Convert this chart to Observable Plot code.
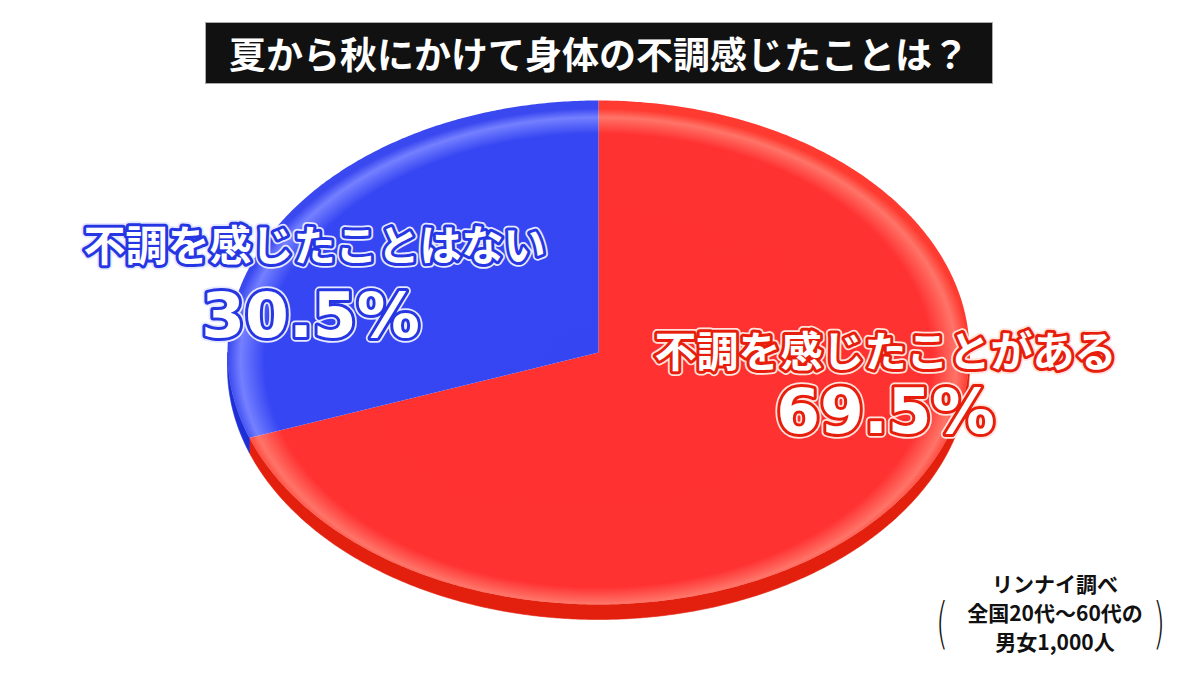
<!DOCTYPE html>
<html lang="ja">
<head>
<meta charset="utf-8">
<script src="https://cdn.jsdelivr.net/npm/d3@7"></script>
<script src="https://cdn.jsdelivr.net/npm/@observablehq/plot@0.6"></script>
<style>
  html, body { margin: 0; padding: 0; background: #fff; }
  #wrap { position: relative; width: 1200px; height: 675px; overflow: hidden; background: #fff; }
  #chart { position: absolute; left: 0; top: 0; }
  #title {
    position: absolute; left: 205px; top: 22px; width: 788px; height: 62px;
    background: #111; border: 1px solid #aaa; box-sizing: border-box;
    color: #fff; font-family: "Noto Sans CJK JP", sans-serif; font-weight: 700;
    font-size: 37px; line-height: 60px; text-align: center; letter-spacing: 0px;
  }
  #source {
    position: absolute; left: 950px; top: 569px; width: 210px;
    font-family: "Noto Sans CJK JP", sans-serif; font-weight: 700; color: #111;
    font-size: 21px; text-align: center;
  }
  #source div { height: 29px; line-height: 29px; white-space: nowrap; }
  .paren { position: absolute; top: 590px; font-family: "DejaVu Sans", sans-serif; font-weight: 300;
    font-size: 56px; line-height: 66px; color: #111; transform: scaleX(0.55); }
</style>
</head>
<body>
<div id="wrap">
  <svg width="0" height="0" style="position:absolute">
    <defs>
      <radialGradient id="grad0" gradientUnits="userSpaceOnUse" cx="598" cy="360" r="252"
        gradientTransform="translate(598,360) scale(1.472,1) translate(-598,-360)">
        <stop offset="0" stop-color="#ff3131"/>
        <stop offset="0.9" stop-color="#ff3232"/>
        <stop offset="0.965" stop-color="#ff7468"/>
        <stop offset="1" stop-color="#ff3a30"/>
      </radialGradient>
      <radialGradient id="grad1" gradientUnits="userSpaceOnUse" cx="598" cy="360" r="252"
        gradientTransform="translate(598,360) scale(1.472,1) translate(-598,-360)">
        <stop offset="0" stop-color="#3545f2"/>
        <stop offset="0.9" stop-color="#3646f2"/>
        <stop offset="0.965" stop-color="#7480ff"/>
        <stop offset="1" stop-color="#3a48f0"/>
      </radialGradient>
    </defs>
  </svg>
  <div id="chart"></div>
  <div id="title"></div>
  <div id="source"></div>
  <div class="paren" style="left:931px">(</div>
  <div class="paren" style="left:1148px">)</div>
</div>
<script>
// ---- data ----
const titleText = "夏から秋にかけて身体の不調感じたことは？";
const categories = ["不調を感じたことがある", "不調を感じたことはない"];
const values = [69.5, 30.5];
const sourceLines = ["リンナイ調べ", "全国20代〜60代の", "男女1,000人"];

// ---- style / layout ----
const sideColors = ["#e3200e", "#1f2fd6"];
const strokeColors = ["#e81e0c", "#2536e2"];
const haloColors = ["#ffe3dd", "#e6e9ff"];
const labelLayout = [
  {lx: 885, ly: 353, px: 885, py: 412},
  {lx: 314, ly: 247, px: 310, py: 316}
];
const cx = 598, cy = 352, rx = 371, ry = 252, depth = 15;

document.getElementById("title").textContent = titleText;
const src = document.getElementById("source");
for (const line of sourceLines) {
  const d = document.createElement("div");
  d.textContent = line;
  src.appendChild(d);
}

const total = d3.sum(values);
function pt(a, off = 0) {
  const r = a * Math.PI / 180;
  return {x: cx + rx * Math.sin(r), y: cy - ry * Math.cos(r) + off};
}
function arcAngles(a0, a1) {
  const s = d3.range(a0, a1, 0.5);
  s.push(a1);
  return s;
}
let acc = 0;
const slices = values.map((v, i) => {
  const a0 = acc / total * 360; acc += v; const a1 = acc / total * 360;
  return {i, cat: categories[i], value: v, a0, a1};
});

const marks = [];
// extruded side (front half only)
for (const s of slices) {
  const b0 = Math.max(s.a0, 90), b1 = Math.min(s.a1, 270);
  if (b1 > b0) {
    const angs = arcAngles(b0, b1);
    const band = [...angs.map(a => pt(a, 0)), ...angs.slice().reverse().map(a => pt(a, depth))];
    band.push(band[0]);
    marks.push(Plot.line(band, {x: "x", y: "y", fill: sideColors[s.i], stroke: sideColors[s.i], strokeWidth: 0.6}));
  }
}
// top faces
for (const s of slices) {
  const poly = [{x: cx, y: cy}, ...arcAngles(s.a0, s.a1).map(a => pt(a)), {x: cx, y: cy}];
  marks.push(Plot.line(poly, {x: "x", y: "y", fill: `url(#grad${s.i})`, stroke: "none"}));
}
// labels
const labels = slices.map(s => ({...s, ...labelLayout[s.i], pct: s.value.toFixed(1) + "%"}));
for (const L of labels) {
  const d = [L];
  const cjk = {x: "lx", y: "ly", text: "cat", fontSize: 42, fontWeight: "bold",
    fontFamily: "'Noto Sans CJK JP', sans-serif", textAnchor: "middle", lineAnchor: "middle"};
  const num = {x: "px", y: "py", text: "pct", fontSize: 63, fontWeight: "bold",
    fontFamily: "'DejaVu Sans', sans-serif", textAnchor: "middle", lineAnchor: "middle"};
  marks.push(Plot.text(d, {...cjk, fill: haloColors[L.i], stroke: haloColors[L.i], strokeWidth: 9.5, strokeLinejoin: "round"}));
  marks.push(Plot.text(d, {...cjk, fill: "#fff", stroke: strokeColors[L.i], strokeWidth: 6, strokeLinejoin: "round", paintOrder: "stroke"}));
  marks.push(Plot.text(d, {...num, fill: haloColors[L.i], stroke: haloColors[L.i], strokeWidth: 9.5, strokeLinejoin: "round"}));
  marks.push(Plot.text(d, {...num, fill: "#fff", stroke: strokeColors[L.i], strokeWidth: 6, strokeLinejoin: "round", paintOrder: "stroke"}));
}

const chart = Plot.plot({
  width: 1200, height: 675, margin: 0,
  x: {domain: [0, 1200], axis: null},
  y: {domain: [675, 0], axis: null},
  style: {background: "transparent"},
  marks
});
document.getElementById("chart").appendChild(chart);
</script>
</body>
</html>
